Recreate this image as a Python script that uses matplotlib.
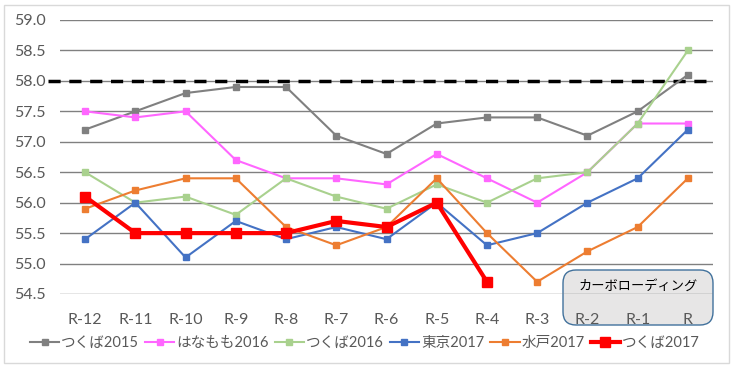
import numpy as np
import matplotlib
matplotlib.use("Agg")
import matplotlib.pyplot as plt
from matplotlib.patches import FancyBboxPatch, Rectangle

plt.rcParams['font.family'] = ['Lato', 'Noto Sans CJK JP', 'DejaVu Sans']

categories = ["R-12", "R-11", "R-10", "R-9", "R-8", "R-7", "R-6",
              "R-5", "R-4", "R-3", "R-2", "R-1", "R"]

tsukuba2015 = [57.2, 57.5, 57.8, 57.9, 57.9, 57.1, 56.8, 57.3, 57.4, 57.4, 57.1, 57.5, 58.1]
hanamomo2016 = [57.5, 57.4, 57.5, 56.7, 56.4, 56.4, 56.3, 56.8, 56.4, 56.0, 56.5, 57.3, 57.3]
tsukuba2016 = [56.5, 56.0, 56.1, 55.8, 56.4, 56.1, 55.9, 56.3, 56.0, 56.4, 56.5, 57.3, 58.5]
tokyo2017 = [55.4, 56.0, 55.1, 55.7, 55.4, 55.6, 55.4, 56.0, 55.3, 55.5, 56.0, 56.4, 57.2]
mito2017 = [55.9, 56.2, 56.4, 56.4, 55.6, 55.3, 55.6, 56.4, 55.5, 54.7, 55.2, 55.6, 56.4]
tsukuba2017 = [56.1, 55.5, 55.5, 55.5, 55.5, 55.7, 55.6, 56.0, 54.7]

series = [
    ("つくば2015", tsukuba2015, "#808080"),
    ("はなもも2016", hanamomo2016, "#FF66FF"),
    ("つくば2016", tsukuba2016, "#A9D18E"),
    ("東京2017", tokyo2017, "#4472C4"),
    ("水戸2017", mito2017, "#ED7D31"),
]

fig = plt.figure(figsize=(7.34, 3.67), dpi=100)
ax = fig.add_axes([60 / 734, 1 - 294 / 367, 653 / 734, 274 / 367])
ax.patch.set_alpha(0)

# outer border
fig.patches.append(Rectangle((4 / 734, 1 - 363 / 367), 725 / 734, 358 / 367,
                             transform=fig.transFigure, fill=False,
                             edgecolor="#D9D9D9", lw=1, zorder=-2))

# carbo-loading box (inches)
box = FancyBboxPatch((5.63, 0.42), 1.50, 0.55,
                     boxstyle="round,pad=0,rounding_size=0.13",
                     transform=fig.dpi_scale_trans, facecolor="#E7E6E6",
                     edgecolor="#41719C", lw=1, zorder=-1)
fig.patches.append(box)
fig.text(638 / 734, 1 - 285 / 367, "カーボローディング", ha="center", va="center",
         fontsize=9.5, color="black")

x = np.arange(len(categories))
for name, vals, col in series:
    ax.plot(x, vals, color=col, lw=1.5, marker="s", ms=4.5, label=name, zorder=3)
ax.plot(x[:len(tsukuba2017)], tsukuba2017, color="#FF0000", lw=3, marker="s",
        ms=7.5, label="つくば2017", zorder=4)

# 58.0 reference line
ax.plot([-0.018, 1], [58.0, 58.0], transform=ax.get_yaxis_transform(),
        color="black", lw=2.5, ls=(0, (3.5, 2.5)), clip_on=False, zorder=2)

ax.set_xlim(-0.5, len(categories) - 0.5)
ax.set_ylim(54.5, 59.0)
ax.set_yticks(np.arange(54.5, 59.01, 0.5))
ax.set_yticklabels([f"{v:.1f}" for v in np.arange(54.5, 59.01, 0.5)])
ax.set_xticks(x)
ax.set_xticklabels(categories)
ax.grid(axis="y", color="#808080", lw=1)
ax.set_axisbelow(True)
for s in ax.spines.values():
    s.set_visible(False)
ax.tick_params(length=0, labelsize=11.5, colors="#595959", pad=10)
ax.tick_params(axis="x", pad=14)

ax.legend(loc="center", bbox_to_anchor=(365 / 734, 1 - 343 / 367),
          bbox_transform=fig.transFigure, ncol=6, frameon=False,
          fontsize=10.5, handlelength=2.0, handletextpad=0.15, columnspacing=0.4,
          labelcolor="#595959")

fig.savefig("out.png", dpi=100)
